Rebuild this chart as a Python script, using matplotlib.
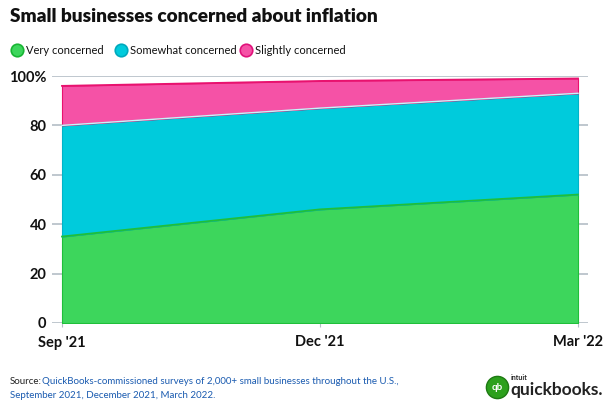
import matplotlib.pyplot as plt
from matplotlib.lines import Line2D

months = ["Sep '21", "Dec '21", "Mar '22"]
very = [35, 46, 52]
somewhat = [45, 41, 41]
slightly = [16, 11, 6]
yticks = [0, 20, 40, 60, 80, 100]
ylabels = ["0", "20", "40", "60", "80", "100%"]
series = ["Very concerned", "Somewhat concerned", "Slightly concerned"]
colors = ["#3dd65c", "#00cbdc", "#f552a6"]
edges = ["#1fbf3a", "#00b4c8", "#e8126f"]

plt.rcParams['font.family'] = ['Lato', 'DejaVu Sans']

fig = plt.figure(figsize=(6.1, 4.12), dpi=100)
ax = fig.add_axes([52 / 610, 1 - 323 / 412, 536 / 610, 247 / 412])

x = list(range(len(months)))
polys = ax.stackplot(x, very, somewhat, slightly, colors=colors, zorder=2)
for p, ec in zip(polys, edges):
    p.set_edgecolor(ec)
    p.set_linewidth(0.8)
top1 = very
top2 = [a + b for a, b in zip(very, somewhat)]
top3 = [a + b for a, b in zip(top2, slightly)]
ax.plot(x, top1, color="#1fbf3a", lw=1.3, zorder=3)
ax.plot(x, top2, color="#c4f6fa", lw=1.0, zorder=3)
ax.plot(x, top3, color="#e8126f", lw=1.3, zorder=3)

for y in yticks:
    ax.axhline(y, color="#b4bec6", lw=1.2, zorder=1)

pad = 10 / 258
ax.set_xlim(-pad, 2 + pad)
ax.set_ylim(0, 100)
for s in ax.spines.values():
    s.set_visible(False)
ax.set_yticks(yticks)
ax.set_yticklabels(ylabels, fontsize=10.5, fontweight='bold', color="#111111")
ax.set_xticks(x)
ax.set_xticklabels(months, fontsize=10.5, fontweight='bold', color="#111111")
ax.tick_params(axis='y', length=0, pad=4)
ax.tick_params(axis='x', length=3, color="#b4bec6", pad=6)

fig.text(10 / 610, 1 - 17 / 412, "Small businesses concerned about inflation",
         fontsize=13.7, fontweight='heavy', va='center', ha='left', color="#111111")

lx = [17, 121, 246]
for px, lab, c, ec in zip(lx, series, colors, ["#18b533", "#00a9bd", "#e0127a"]):
    fig.add_artist(Line2D([px / 610], [1 - 50 / 412], transform=fig.transFigure,
                          marker='o', markersize=9, markerfacecolor=c,
                          markeredgecolor=ec, markeredgewidth=1.2, linestyle='none'))
    fig.text((px + 9) / 610, 1 - 50 / 412, lab, fontsize=8, va='center', ha='left', color="#111111")

fig.text(10 / 610, 1 - 382 / 412, "Source:", fontsize=7, va='center', color="#222222")
fig.text(42 / 610, 1 - 382 / 412,
         "QuickBooks-commissioned surveys of 2,000+ small businesses throughout the U.S.,",
         fontsize=7, va='center', color="#1a5bb0")
fig.text(10 / 610, 1 - 396 / 412, "September 2021, December 2021, March 2022.",
         fontsize=7, va='center', color="#1a5bb0")

fig.add_artist(Line2D([497 / 610], [1 - 387 / 412], transform=fig.transFigure,
                      marker='o', markersize=16, markerfacecolor="#2ca01c",
                      markeredgecolor="#1d7a12", markeredgewidth=1, linestyle='none'))
fig.text(497 / 610, 1 - 387 / 412, "qb", fontsize=7, fontweight='bold', color='white',
         ha='center', va='center')
fig.text(511 / 610, 1 - 378 / 412, "intuit", fontsize=5, fontweight='bold', color="#222222",
         ha='left', va='center')
fig.text(510 / 610, 1 - 390 / 412, "quickbooks.", fontsize=12.5, fontweight='bold', color="#222222",
         ha='left', va='center')

fig.savefig("out.png", dpi=100, facecolor='white')
